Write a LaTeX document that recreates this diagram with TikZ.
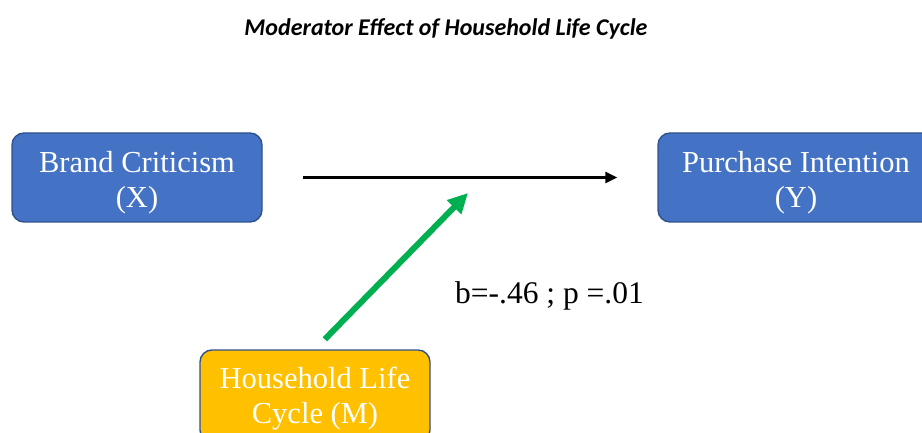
\documentclass[tikz,border=0pt]{standalone}
\usepackage{fontspec}
\setmainfont{Liberation Serif}
\newfontfamily\titlefont{Carlito}
\definecolor{boxc}{HTML}{4472C4}
\definecolor{edgec}{HTML}{2F528F}
\definecolor{modc}{HTML}{FFC000}
\definecolor{arrc}{HTML}{00B050}
\usetikzlibrary{arrows.meta,positioning,calc}
\tikzset{
  var/.style={draw=edgec,line width=1.4pt,fill=boxc,rounded corners=12pt,text=white,align=center,
              inner sep=0pt,font=\fontsize{30.5}{35}\selectfont,text height=67pt,text depth=7pt},
  modbox/.style={var,fill=modc,text height=62pt},
  ptr/.style={-{Triangle[length=12pt,width=11pt]},line width=2.6pt,draw=black},
  modptr/.style={-{Triangle[length=20pt,width=19pt]},line width=6pt,draw=arrc},
  ttl/.style={font=\titlefont\bfseries\itshape\fontsize{24}{28}\selectfont},
  lbl/.style={font=\fontsize{31.5}{36}\selectfont,inner sep=0pt},
}

\begin{document}
\begin{tikzpicture}[x=1pt,y=-1pt]
  \useasboundingbox (0,0) rectangle (922,433);
  \clip (0,0) rectangle (922,433);
  \node[ttl] (title) at (446,29) {Moderator Effect of Household Life Cycle};
  \node[var,minimum width=250pt,minimum height=89pt] (bc) at (137,177.5) {Brand Criticism\\(X)};
  \node[var,minimum width=276pt,minimum height=89pt] (pi) at (796,177.5) {Purchase Intention\\(Y)};
  \node[modbox,minimum width=230pt,minimum height=92pt] (hlc) at (315,396) {Household Life\\Cycle (M)};
  \coordinate (tgt) at (468,193);
  \draw[ptr,shorten <=40pt,shorten >=40pt] (bc) -- (pi);
  \draw[modptr,shorten <=14pt] (hlc.north) -- (tgt);
  \node[lbl,anchor=west] (eff) at (455,296) {b=-.46 ; p =.01};
\end{tikzpicture}
\end{document}
